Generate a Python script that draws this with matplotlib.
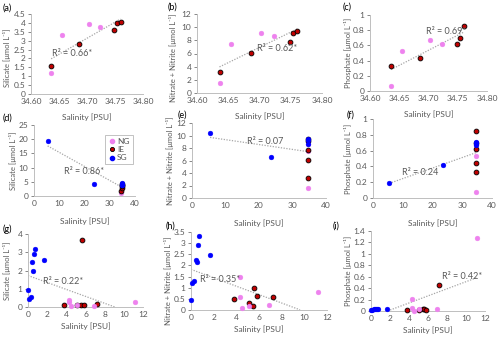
import numpy as np
import matplotlib
matplotlib.use('Agg')
import matplotlib.pyplot as plt
from matplotlib.ticker import FuncFormatter

plt.rcParams['font.family'] = ['Lato', 'DejaVu Sans']

# --- data: panels a-c (and reused in d-f) ---
ng_sal = [34.636, 34.655, 34.703, 34.723]
ng_si = [1.2, 3.3, 3.95, 3.75]
ng_no3 = [1.55, 7.5, 9.1, 8.65]
ng_po4 = [0.07, 0.53, 0.67, 0.62]

ie_sal = [34.636, 34.686, 34.749, 34.754, 34.760]
ie_si = [1.6, 2.83, 3.58, 4.0, 4.05]
ie_no3 = [3.25, 6.1, 7.75, 9.1, 9.45]
ie_po4 = [0.33, 0.44, 0.62, 0.70, 0.85]

# SG points for d-f
sg_sal = [5.4, 23.6, 34.70, 34.72, 34.75]
sg_si = [19.3, 4.3, 4.5, 4.0, 3.7]
sg_no3 = [10.4, 6.5, 9.5, 9.3, 8.7]
sg_po4 = [0.19, 0.42, 0.67, 0.69, 0.71]

# --- data: panels g-i ---
g_sg_sal = [0.0, 0.1, 0.3, 0.4, 0.5, 0.6, 0.7, 1.7]
g_sg_si = [0.95, 0.45, 0.55, 2.45, 2.0, 2.9, 3.2, 2.6]
g_sg_no3 = [0.43, 1.2, 1.28, 2.25, 2.15, 2.92, 3.3, 2.45]
g_sg_po4 = [0.01, 0.02, 0.03, 0.04, 0.03, 0.04, 0.03, 0.04]

g_ie_sal = [3.8, 5.1, 5.5, 5.6, 5.8, 7.2]
g_ie_si = [0.1, 0.1, 0.1, 3.65, 0.1, 0.18]
g_ie_no3 = [0.48, 0.32, 0.2, 0.98, 0.65, 0.57]
g_ie_po4 = [0.01, 0.01, 0.04, 0.04, 0.01, 0.46]

g_ng_sal = [4.3, 4.3, 4.5, 5.1, 6.9, 11.2]
g_ng_si = [0.37, 0.25, 0.07, 0.1, 0.07, 0.3]
g_ng_no3 = [1.47, 0.58, 0.1, 0.2, 0.22, 0.82]
g_ng_po4 = [0.21, 0.05, 0.0, 0.03, 0.03, 1.28]

r2_labels = ['R² = 0.66*', 'R² = 0.62*', 'R² = 0.69*',
             'R² = 0.86*', 'R² = 0.07', 'R² = 0.24',
             'R² = 0.22*', 'R² = 0.35*', 'R² = 0.42*']

GRAY = '#595959'
PINK = '#EE82EE'
RED = '#C00000'
BLUE = '#0000FF'

W, H = 500, 340
fig = plt.figure(figsize=(W / 100, H / 100), dpi=100)


def ax_at(l, r, t, b):
    return fig.add_axes([l / W, 1 - b / H, (r - l) / W, (b - t) / H])


def style(ax, box, xlim, xstep, ylim, ystep, xfmt, ylabel, gap, lx, ly=0.5):
    ax.set_xlim(*xlim)
    ax.set_ylim(*ylim)
    ax.set_xticks(np.arange(xlim[0], xlim[1] + xstep / 2, xstep))
    ax.set_yticks(np.arange(ylim[0], ylim[1] + ystep / 2, ystep))
    ax.xaxis.set_major_formatter(FuncFormatter(xfmt))
    ax.yaxis.set_major_formatter(FuncFormatter(lambda v, p: f'{round(v, 2):g}'))
    for s in ['top', 'right']:
        ax.spines[s].set_visible(False)
    for s in ['left', 'bottom']:
        ax.spines[s].set_color('#BFBFBF')
        ax.spines[s].set_linewidth(0.7)
    ax.tick_params(labelsize=6, colors=GRAY, length=2, width=0.5, pad=2)
    ax.tick_params(axis='x', length=0, pad=3)
    ax.set_ylabel(ylabel, fontsize=5.5, color=GRAY, va='center')
    ax.set_xlabel('Salinity [PSU]', fontsize=6, color=GRAY)
    l, r, t, b = box
    ax.xaxis.set_label_coords(0.5, -gap / (b - t))
    ax.yaxis.set_label_coords((lx - l) / (r - l), ly)


def pts(ax, x, y, c, edge):
    ax.scatter(x, y, s=12, c=c, edgecolors='black' if edge else c,
               linewidths=0.6 if edge else 0.3, zorder=3, clip_on=False)


def trend(ax, x, y):
    x = np.array(x)
    y = np.array(y)
    k, b = np.polyfit(x, y, 1)
    xs = np.linspace(x.min(), x.max(), 200)
    ys = k * xs + b
    keep = ys >= 0
    ax.plot(xs[keep], ys[keep], ls=(0, (1, 1.2)), color='#A6A6A6', lw=0.9, zorder=2)


fmt2 = lambda v, p: f'{v:.2f}'
fmtg = lambda v, p: f'{round(v, 2):g}'
si_lab = 'Silicate [μmol L⁻¹]'
no_lab = 'Nitrate + Nitrite [μmol L⁻¹]'
po_lab = 'Phosphate [μmol L⁻¹]'
labs = [si_lab, no_lab, po_lab]

# row 1
boxes1 = [(31, 143, 14, 94), (197, 322, 14, 93), (370, 487, 15, 91)]
lx1 = [7, 173, 348]
ly1 = [0.45, 0.45, 0.5]
ys1 = [(ng_si, ie_si), (ng_no3, ie_no3), (ng_po4, ie_po4)]
ylims1 = [((0, 4.5), 0.5), ((0, 12), 2), ((0, 1), 0.2)]
txt1 = [(34.638, 2.25), (34.696, 6.8), (34.696, 0.78)]
axes = []
for i in range(3):
    ax = ax_at(*boxes1[i])
    style(ax, boxes1[i], (34.60, 34.80), 0.05, ylims1[i][0], ylims1[i][1],
          fmt2, labs[i], 19, lx1[i], ly1[i])
    ng_y, ie_y = ys1[i]
    trend(ax, ng_sal + ie_sal, ng_y + ie_y)
    pts(ax, ng_sal, ng_y, PINK, False)
    pts(ax, ie_sal, ie_y, RED, True)
    ax.text(*txt1[i], r2_labels[i], fontsize=6.5, color=GRAY, va='center')
    axes.append(ax)

# row 2
boxes2 = [(34, 135, 125, 196), (192, 326, 123, 198), (373, 492, 119, 198)]
lx2 = [13, 170, 348]
ys2 = [(ng_si, ie_si, sg_si), (ng_no3, ie_no3, sg_no3), (ng_po4, ie_po4, sg_po4)]
ylims2 = [((0, 25), 5), ((0, 12), 2), ((0, 1), 0.2)]
txt2 = [(11.9, 8.8), (16.4, 9.0), (9.7, 0.32)]
for i in range(3):
    ax = ax_at(*boxes2[i])
    style(ax, boxes2[i], (0, 40), 10, ylims2[i][0], ylims2[i][1],
          fmtg, labs[i], 21, lx2[i])
    ng_y, ie_y, sg_y = ys2[i]
    trend(ax, ng_sal + ie_sal + sg_sal, ng_y + ie_y + sg_y)
    pts(ax, ng_sal, ng_y, PINK, False)
    pts(ax, ie_sal, ie_y, RED, True)
    pts(ax, sg_sal, sg_y, BLUE, False)
    ax.text(*txt2[i], r2_labels[3 + i], fontsize=6.5, color=GRAY, va='center')
    axes.append(ax)

# legend in (d)
h_ng = plt.Line2D([], [], ls='', marker='o', ms=3, mfc=PINK, mec=PINK)
h_ie = plt.Line2D([], [], ls='', marker='o', ms=3, mfc=RED, mec='black', mew=0.6)
h_sg = plt.Line2D([], [], ls='', marker='o', ms=3, mfc=BLUE, mec=BLUE)
leg = axes[3].legend([h_ng, h_ie, h_sg], ['NG', 'IE', 'SG'], loc='upper left',
                     bbox_to_anchor=(105 / W, 1 - 135 / H), bbox_transform=fig.transFigure,
                     fontsize=6, frameon=True, fancybox=False, borderpad=0.35,
                     labelspacing=0.15, handletextpad=0.1, handlelength=1.0,
                     borderaxespad=0)
leg.get_frame().set_edgecolor('#A6A6A6')
leg.get_frame().set_linewidth(0.6)
for t in leg.get_texts():
    t.set_color(GRAY)

# row 3
boxes3 = [(28, 143, 234, 307), (191, 327, 232, 310), (371, 485, 231, 311)]
lx3 = [7, 168, 348]
ly3 = [0.5, 0.38, 0.5]
ys3 = [(g_sg_si, g_ie_si, g_ng_si), (g_sg_no3, g_ie_no3, g_ng_no3),
       (g_sg_po4, g_ie_po4, g_ng_po4)]
ylims3 = [((0, 4), 1), ((0, 3.5), 0.5), ((0, 1.4), 0.2)]
txt3 = [(1.6, 1.37), (0.8, 1.35), (7.5, 0.6)]
for i in range(3):
    ax = ax_at(*boxes3[i])
    style(ax, boxes3[i], (0, 12), 2, ylims3[i][0], ylims3[i][1],
          fmtg, labs[i], 15, lx3[i], ly3[i])
    sg_y, ie_y, ng_y = ys3[i]
    trend(ax, g_sg_sal + g_ie_sal + g_ng_sal, sg_y + ie_y + ng_y)
    pts(ax, g_sg_sal, sg_y, BLUE, False)
    pts(ax, g_ie_sal, ie_y, RED, True)
    pts(ax, g_ng_sal, ng_y, PINK, False)
    ax.text(*txt3[i], r2_labels[6 + i], fontsize=6.5, color=GRAY, va='center')
    axes.append(ax)

# panel letters
letters = [('(a)', 3, 8), ('(b)', 168, 7), ('(c)', 343, 7),
           ('(d)', 3, 118), ('(e)', 178, 115), ('(f)', 347, 115),
           ('(g)', 3, 229), ('(h)', 166, 226), ('(i)', 333, 226)]
for s, x, y in letters:
    fig.text(x / W, 1 - y / H, s, fontsize=6.5, color='black', va='center')

fig.savefig('out.png', dpi=100)
